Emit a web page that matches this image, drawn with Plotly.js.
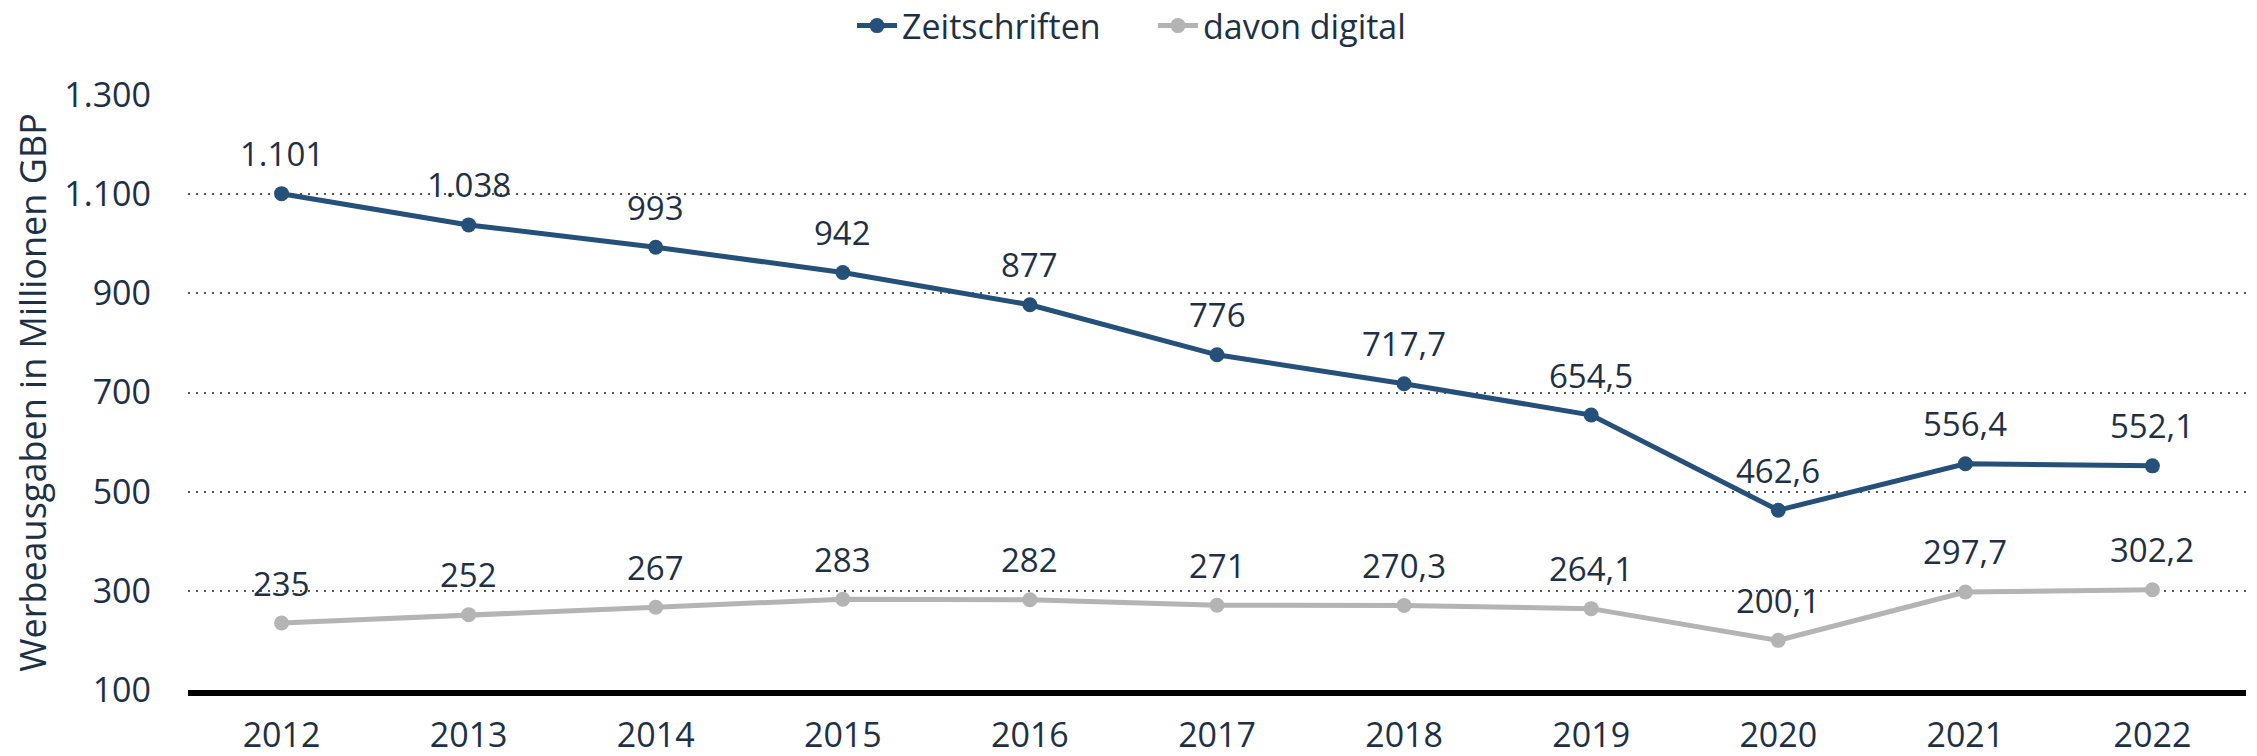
<!DOCTYPE html>
<html>
<head>
<meta charset="utf-8">
<script src="https://cdn.plot.ly/plotly-3.0.1.min.js"></script>
<style>
  html, body { margin: 0; padding: 0; background: #ffffff; }
  #chart { width: 2257px; height: 756px; }
</style>
</head>
<body>
<div id="chart"></div>
<script>
const years = ['2012','2013','2014','2015','2016','2017','2018','2019','2020','2021','2022'];
const zeitschriften = [1101, 1038, 993, 942, 877, 776, 717.7, 654.5, 462.6, 556.4, 552.1];
const davonDigital = [235, 252, 267, 283, 282, 271, 270.3, 264.1, 200.1, 297.7, 302.2];
const yTicks = [100, 300, 500, 700, 900, 1100, 1300];

const seriesNames = ['Zeitschriften', 'davon digital'];
const textColor = '#1d3045';
const fmt = v => v.toLocaleString('de-DE', {maximumFractionDigits: 1});

const traces = [
  {
    x: years, y: zeitschriften, name: seriesNames[0],
    type: 'scatter', mode: 'lines+markers',
    line: {color: '#24507a', width: 5},
    marker: {color: '#24507a', size: 15},
    cliponaxis: false,
    hoverinfo: 'skip'
  },
  {
    x: years, y: davonDigital, name: seriesNames[1],
    type: 'scatter', mode: 'lines+markers',
    line: {color: '#b4b4b4', width: 5},
    marker: {color: '#b4b4b4', size: 15},
    cliponaxis: false,
    hoverinfo: 'skip'
  }
];

// Data labels: category axis positions are the serial index of each year
function labelAnnotations(values) {
  return values.map((v, i) => ({
    x: years.indexOf(years[i]), y: v, xref: 'x', yref: 'y',
    text: fmt(v),
    showarrow: false,
    xanchor: 'center', yanchor: 'middle',
    yshift: 40,
    font: {family: 'Open Sans', size: 33, color: textColor}
  }));
}

const layout = {
  width: 2257, height: 756,
  margin: {l: 188, r: 11, t: 95, b: 66},
  paper_bgcolor: '#ffffff', plot_bgcolor: '#ffffff',
  font: {family: 'Open Sans', size: 34, color: textColor},
  separators: ',.',
  showlegend: true,
  legend: {
    orientation: 'h',
    xref: 'container', yref: 'container',
    x: 1153/2257, xanchor: 'center',
    y: 1 - 26/756, yanchor: 'middle',
    font: {family: 'Open Sans', size: 34, color: textColor},
    itemwidth: 40,
    entrywidth: 246,
    traceorder: 'normal'
  },
  annotations: labelAnnotations(zeitschriften).concat(labelAnnotations(davonDigital)),
  xaxis: {
    type: 'category',
    range: [-0.5, years.length - 0.5],
    showgrid: false,
    showline: true, linecolor: '#000000', linewidth: 6,
    ticks: '',
    ticklabelstandoff: 10,
    tickfont: {family: 'Open Sans', size: 34, color: textColor},
    zeroline: false,
    fixedrange: true
  },
  yaxis: {
    range: [100, 1300],
    tickvals: yTicks,
    ticktext: yTicks.map(v => v.toLocaleString('de-DE')),
    showgrid: true, gridcolor: '#555555', gridwidth: 2, griddash: '2px,6px',
    showline: false, zeroline: false,
    ticks: '',
    ticklabelstandoff: 36,
    tickfont: {family: 'Open Sans', size: 34, color: textColor},
    title: {
      text: 'Werbeausgaben in Millionen GBP',
      font: {family: 'Open Sans', size: 36, color: textColor},
      standoff: 6
    },
    fixedrange: true
  }
};

Plotly.newPlot('chart', traces, layout, {displayModeBar: false, staticPlot: true});
</script>
</body>
</html>
